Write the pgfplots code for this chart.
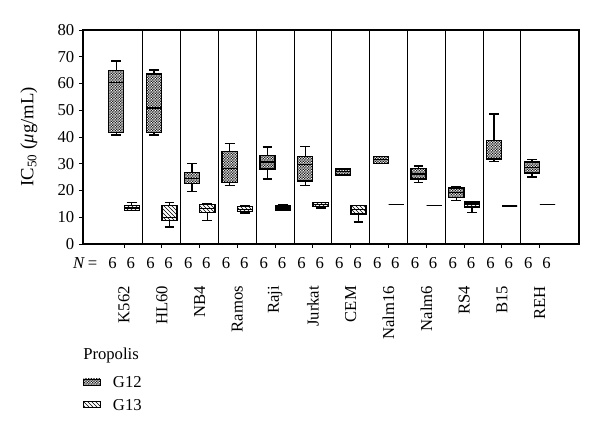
\documentclass[border=0pt]{standalone}
\usepackage{fontspec}
\setmainfont{Liberation Serif}
\usepackage{pgfplots}
\pgfplotsset{compat=1.18}
\usepgfplotslibrary{statistics}
\usetikzlibrary{patterns}

% fine checker for G12
\pgfdeclarepatternformonly{fine checker}{\pgfqpoint{-0.1pt}{-0.1pt}}{\pgfqpoint{2.1pt}{2.1pt}}{\pgfqpoint{2pt}{2pt}}{%
  \pgfpathrectangle{\pgfpointorigin}{\pgfqpoint{1pt}{1pt}}%
  \pgfpathrectangle{\pgfqpoint{1pt}{1pt}}{\pgfqpoint{1pt}{1pt}}%
  \pgfusepath{fill}}

\newcommand{\txt}{\fontsize{12.5}{14}\selectfont}

\pgfplotsset{
  g12/.style={black, line width=1pt, boxplot/draw direction=y,
    boxplot/box extend=0.4, boxplot/whisker extend=0.26,
    boxplot/every box/.style={draw=black, pattern=fine checker, pattern color=black!90}},
  g13/.style={black, line width=1pt, boxplot/draw direction=y,
    boxplot/box extend=0.4, boxplot/whisker extend=0.26,
    boxplot/every box/.style={draw=black, pattern=north west lines, pattern color=black}},
}

% style, position, lower whisker, lower quartile, median, upper quartile, upper whisker
\newcommand{\bp}[7]{\addplot[#1, boxplot prepared={draw position=#2, lower whisker=#3,
  lower quartile=#4, median=#5, upper quartile=#6, upper whisker=#7}] coordinates {};}

\begin{document}
\begin{tikzpicture}
\path[use as bounding box] (-62.25pt,-145.5pt) rectangle (387.75pt,183pt);
\begin{axis}[
  scale only axis, width=372pt, height=160.5pt,
  at={(0,0)}, anchor=south west,
  xmin=-0.085, xmax=13.04, ymin=0, ymax=80,
  ytick={0,10,...,80},
  xtick={1,...,12},
  xticklabels={K562,HL60,NB4,Ramos,Raji,Jurkat,CEM,Nalm16,Nalm6,RS4,B15,REH},
  xticklabel style={rotate=90, anchor=east, font=\txt},
  xticklabel shift=25pt,
  yticklabel style={font=\txt},
  tick align=outside, tick pos=left, major tick length=3pt,
  tick style={black, line width=0.7pt},
  extra x ticks={1.5,2.5,...,11.5},
  extra x tick labels={},
  extra x tick style={grid=major, major tick length=0pt},
  major grid style={black, line width=0.7pt},
  axis line style={line width=0.9pt},
  ylabel={IC\textsubscript{50} (\textit{μ}g/mL)},
  ylabel style={at={(axis description cs:-0.109,0.5)}, anchor=center, font=\fontsize{14}{16}\selectfont},
  /pgf/number format/assume math mode=true,
  clip=false,
]
\bp{g12}{0.795}{40.8}{41.7}{60.3}{64.8}{68.4}
\bp{g13}{1.205}{12.5}{12.5}{13.5}{14.4}{15.5}
\bp{g12}{1.795}{40.8}{41.7}{50.8}{63.6}{65.0}
\bp{g13}{2.205}{6.3}{8.8}{10.0}{14.4}{15.4}
\bp{g12}{2.795}{19.6}{22.5}{24.6}{26.7}{30.2}
\bp{g13}{3.205}{8.8}{11.8}{13.2}{14.7}{15.2}
\bp{g12}{3.795}{21.8}{23.1}{28.1}{34.5}{37.6}
\bp{g13}{4.205}{11.6}{12.2}{13.0}{14.0}{14.2}
\bp{g12}{4.795}{24.3}{28.0}{30.6}{33.0}{36.2}
\bp{g13}{5.205}{12.7}{12.7}{13.5}{14.2}{14.8}
\bp{g12}{5.795}{21.9}{23.6}{29.6}{32.7}{36.4}
\bp{g13}{6.205}{13.4}{14.0}{14.7}{15.4}{15.4}
\bp{g12}{6.795}{25.8}{25.8}{27.0}{28.0}{28.0}
\bp{g13}{7.205}{8.2}{11.2}{13.0}{14.5}{14.5}
\bp{g12}{7.795}{30.2}{30.2}{31.5}{32.7}{32.7}
\bp{g13}{8.205}{14.8}{14.8}{14.8}{14.8}{14.8}
\bp{g12}{8.795}{22.9}{24.3}{26.2}{28.2}{29.2}
\bp{g13}{9.205}{14.5}{14.5}{14.5}{14.5}{14.5}
\bp{g12}{9.795}{16.2}{17.4}{19.3}{20.9}{21.3}
\bp{g13}{10.205}{11.7}{13.8}{15.0}{15.7}{15.7}
\bp{g12}{10.795}{30.8}{31.5}{32.0}{38.6}{48.6}
\bp{g13}{11.205}{14.2}{14.2}{14.2}{14.2}{14.2}
\bp{g12}{11.795}{25.1}{26.6}{28.6}{30.7}{31.6}
\bp{g13}{12.205}{14.8}{14.8}{14.8}{14.8}{14.8}
% N = row
\node[anchor=east, font=\txt, inner sep=0pt, yshift=-14.5pt] at (axis cs:0.3,0) {\textit{N}\,=};
\pgfplotsinvokeforeach{1,...,12}{
  \node[font=\txt, inner sep=0pt, yshift=-14.5pt] at (axis cs:#1-0.3,0) {6};
  \node[font=\txt, inner sep=0pt, yshift=-14.5pt] at (axis cs:#1+0.18,0) {6};
}
\end{axis}
% legend
\node[anchor=west, font=\txt, inner sep=0pt] at (0pt,-83.25pt) {Propolis};
\draw[line width=0.7pt, pattern=fine checker, pattern color=black!90] (0.5pt,-101.25pt) rectangle (12.75pt,-105.75pt);
\node[anchor=west, font=\txt, inner sep=0pt] at (22.3pt,-103.3pt) {G12};
\draw[line width=0.7pt, pattern=north west lines] (0.5pt,-118.3pt) rectangle (12.75pt,-122.8pt);
\node[anchor=west, font=\txt, inner sep=0pt] at (22.3pt,-120.75pt) {G13};
\end{tikzpicture}
\end{document}
